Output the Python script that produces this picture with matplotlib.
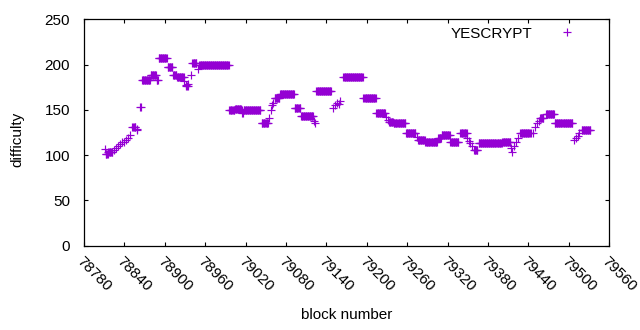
import numpy as np
import matplotlib
matplotlib.use("Agg")
import matplotlib.pyplot as plt

# difficulty runs: (first block, last block, difficulty)
run_start = [
    78811, 78812, 78816, 78824, 78827, 78830, 78833, 78836, 78839, 78842,
    78845, 78848, 78852, 78858, 78859, 78863, 78866, 78879, 78888, 78891,
    78904, 78912, 78918, 78929, 78931, 78932, 78935, 78939, 78941, 78950,
    78951, 78996, 79004, 79014, 79015, 79016, 79017, 79044, 79055, 79057,
    79059, 79061, 79063, 79071, 79093, 79102, 79121, 79123, 79125, 79150,
    79152, 79155, 79158, 79160, 79165, 79195, 79214, 79229, 79231, 79233,
    79240, 79258, 79274, 79276, 79287, 79306, 79311, 79324, 79339, 79349,
    79351, 79353, 79356, 79359, 79366, 79401, 79414, 79416, 79419, 79422,
    79425, 79428, 79446, 79450, 79453, 79455, 79457, 79466, 79479, 79508,
    79511, 79513, 79515, 79519,
]
run_end = [
    78811, 78815, 78822, 78824, 78827, 78830, 78833, 78836, 78839, 78842,
    78845, 78848, 78856, 78858, 78859, 78864, 78878, 78887, 78890, 78903,
    78911, 78917, 78928, 78929, 78931, 78934, 78935, 78939, 78947, 78950,
    78995, 79003, 79013, 79014, 79015, 79016, 79042, 79053, 79055, 79057,
    79059, 79061, 79070, 79092, 79101, 79120, 79121, 79123, 79147, 79150,
    79152, 79155, 79158, 79160, 79194, 79213, 79227, 79229, 79231, 79239,
    79257, 79272, 79274, 79286, 79304, 79310, 79323, 79336, 79348, 79349,
    79351, 79353, 79356, 79364, 79400, 79413, 79414, 79416, 79419, 79422,
    79425, 79443, 79446, 79450, 79453, 79455, 79462, 79478, 79505, 79508,
    79511, 79513, 79515, 79532,
]
run_value = [
    107, 101, 104, 106, 108, 110, 112, 114, 115, 117,
    119, 122, 131, 129, 128, 153, 183, 188, 183, 207,
    197, 189, 186, 182, 178, 176, 179, 188, 202, 195,
    200, 150, 151, 150, 146, 147, 150, 136, 141, 150,
    155, 158, 163, 168, 152, 143, 138, 135, 171, 152,
    155, 158, 157, 160, 186, 163, 146, 142, 139, 137,
    136, 124, 120, 117, 115, 119, 122, 115, 124, 119,
    116, 113, 110, 106, 113, 114, 108, 104, 110, 115,
    119, 124, 125, 131, 135, 138, 141, 145, 136, 117,
    119, 121, 124, 128,
]

x_ticks = list(range(78780, 79561, 60))
y_ticks = [0, 50, 100, 150, 200, 250]
series_name = "YESCRYPT"


def main():
    blocks = np.concatenate([np.arange(s, e + 1) for s, e in zip(run_start, run_end)])
    diffs = np.concatenate([np.full(e - s + 1, v) for s, e, v in zip(run_start, run_end, run_value)])

    fs = 11
    plt.rcParams["font.family"] = ["Liberation Sans", "DejaVu Sans"]
    fig = plt.figure(figsize=(6.4, 3.3), dpi=100)
    ax = fig.add_axes([84 / 640, 1 - 245.7 / 330, 525.3 / 640, 226.4 / 330])

    ax.plot(blocks, diffs, ls="none", marker="+", ms=5.3, mew=0.85,
            color="#9400d3", label=series_name)

    ax.set_xlim(78780, 79560)
    ax.set_ylim(0, 250)
    ax.set_xticks(x_ticks)
    ax.set_yticks(y_ticks)
    ax.set_xticklabels([str(t) for t in x_ticks], rotation=-45,
                       ha="left", va="top", rotation_mode="anchor")
    ax.tick_params(direction="in", length=3, width=0.8, top=True, right=True,
                   labelsize=fs, colors="black")
    ax.tick_params(axis="y", pad=10)
    ax.tick_params(axis="x", pad=6)
    for sp in ax.spines.values():
        sp.set_linewidth(0.9)

    ax.set_xlabel("block number", fontsize=fs)
    ax.set_ylabel("difficulty", fontsize=fs)
    ax.xaxis.set_label_coords(0.5, -0.275)
    ax.yaxis.set_label_coords(-0.114, 0.47)

    ax.legend(loc="upper right", bbox_to_anchor=(0.9547, 0.967), frameon=False,
              markerfirst=False, fontsize=fs, handlelength=2.4, handletextpad=1.1,
              borderpad=0, borderaxespad=0)

    fig.savefig("out.png", dpi=100)


if __name__ == "__main__":
    main()
